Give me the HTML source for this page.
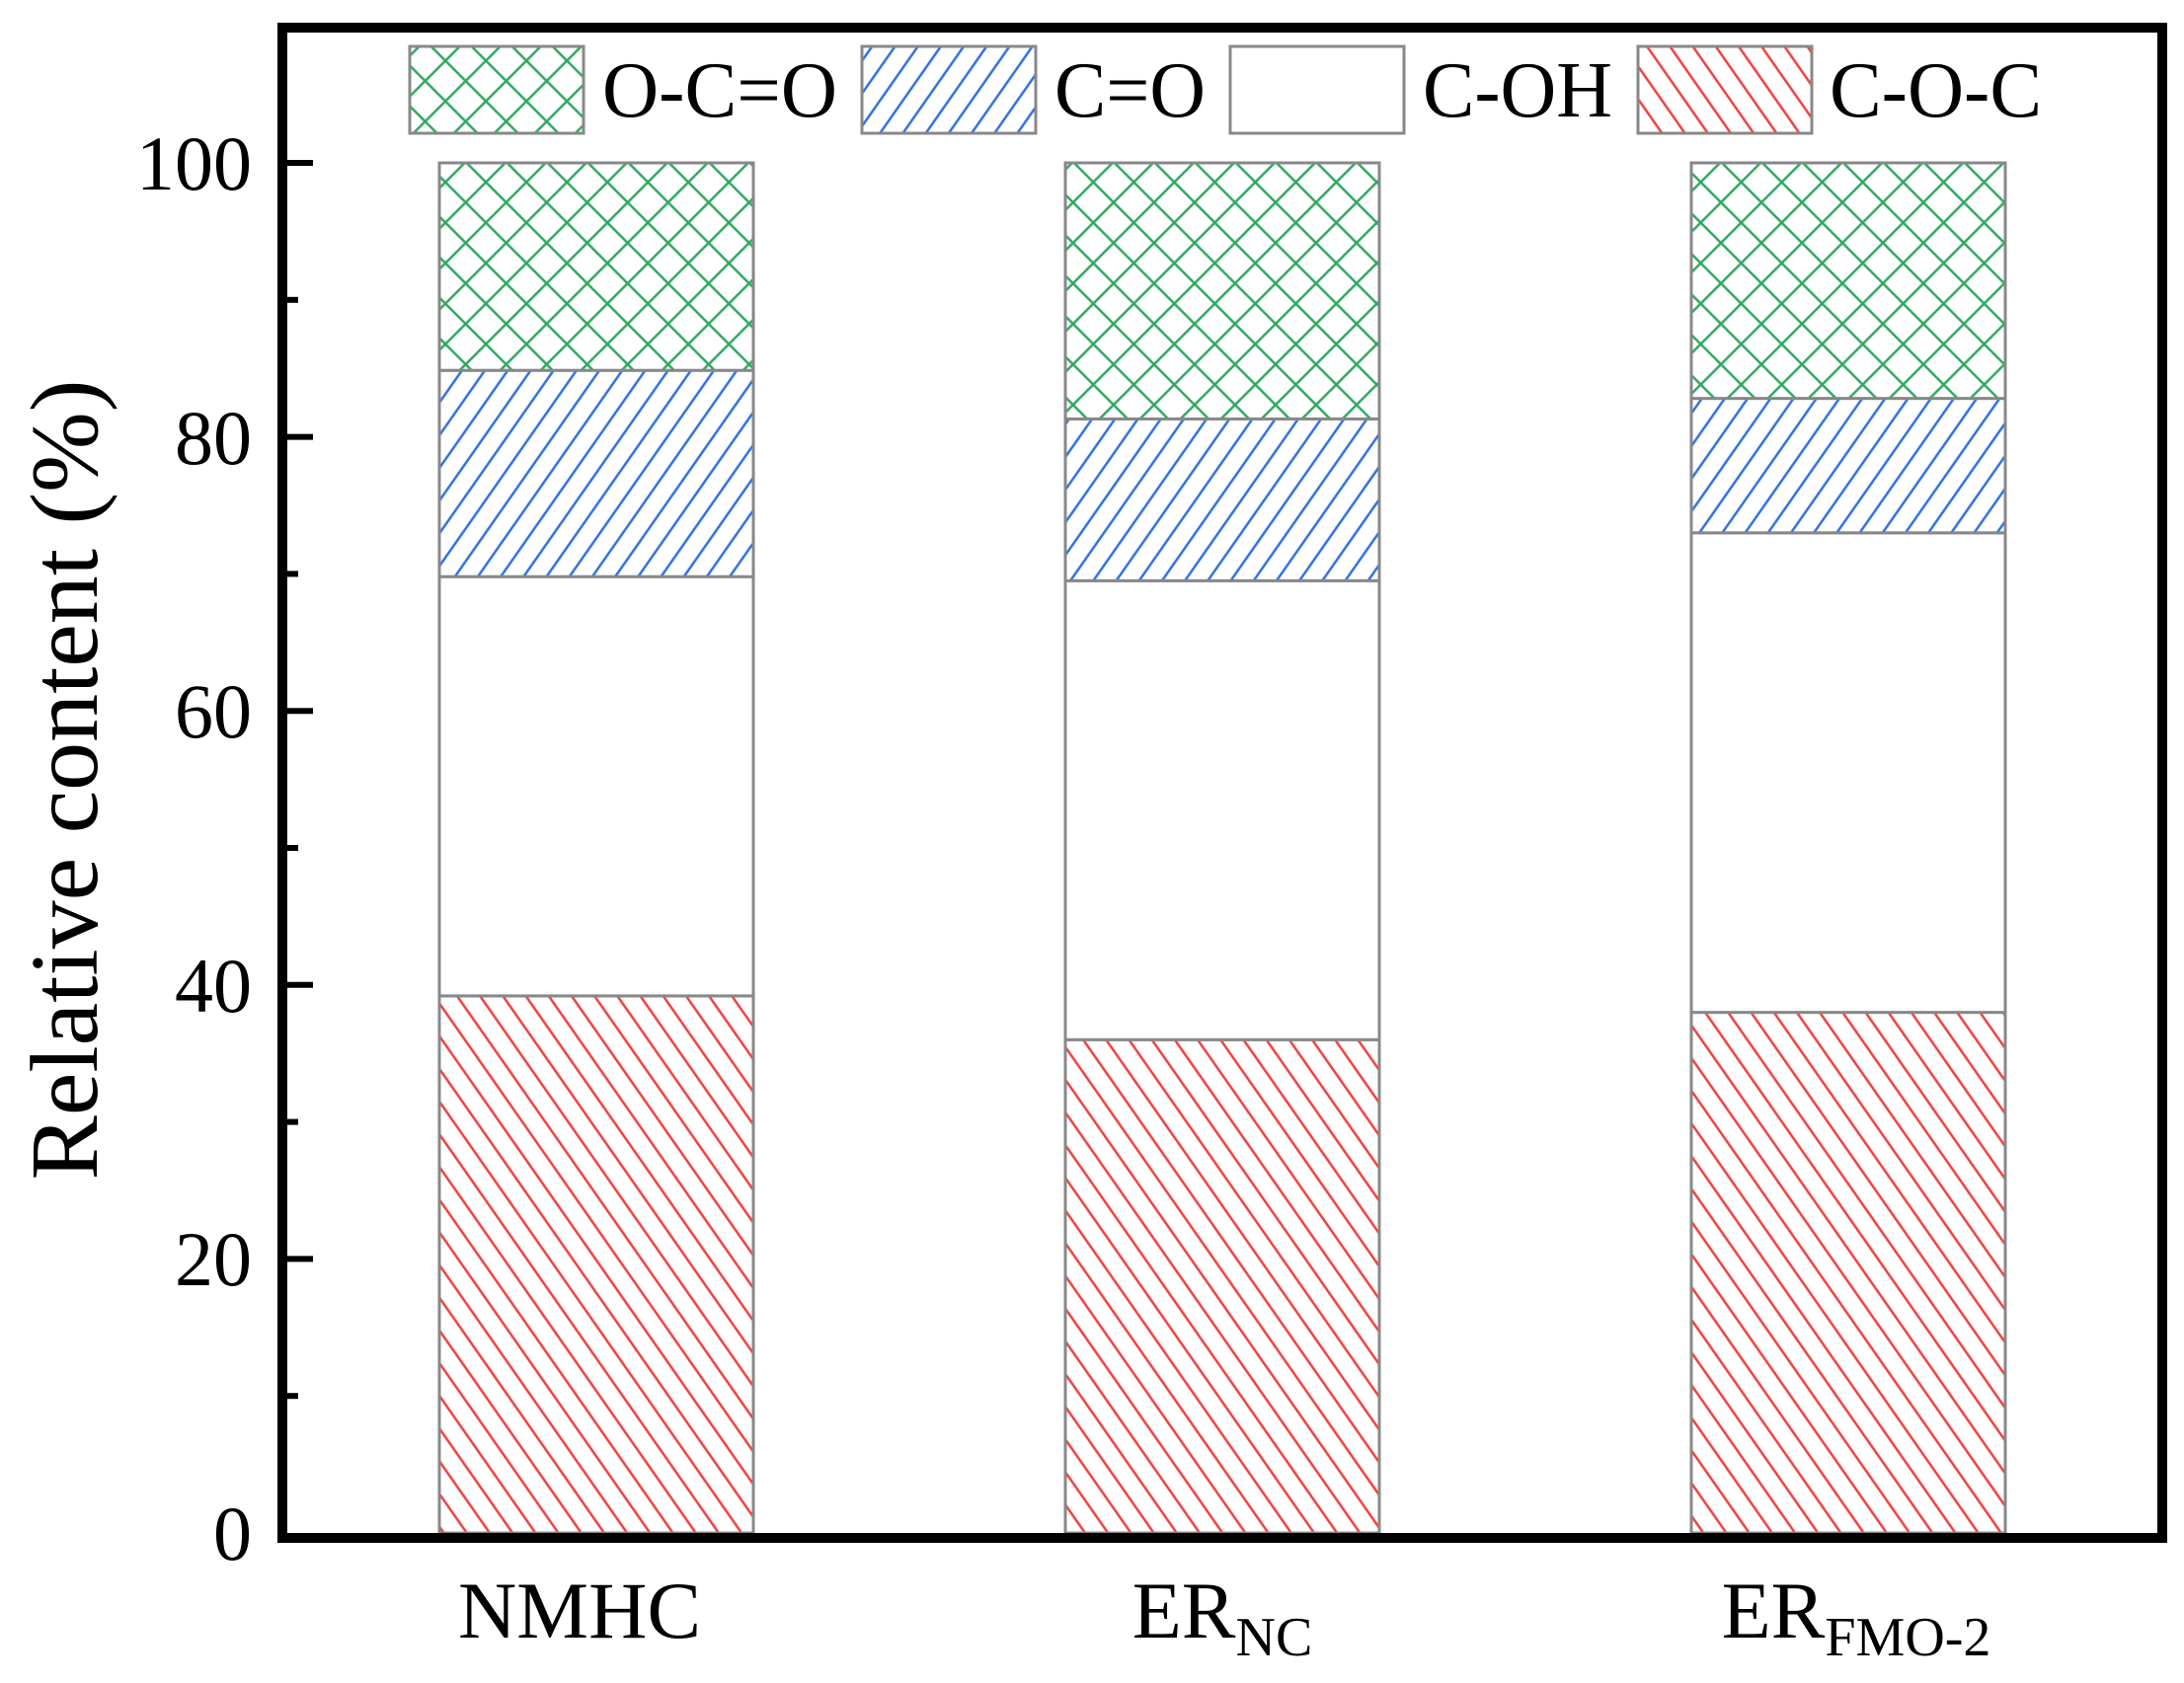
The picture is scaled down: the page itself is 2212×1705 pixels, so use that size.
<!DOCTYPE html>
<html><head><meta charset="utf-8"><style>html,body{margin:0;padding:0;background:#fff}svg{display:block}</style></head>
<body>
<svg width="2212" height="1705" viewBox="0 0 2212 1705" xmlns="http://www.w3.org/2000/svg" font-family="Liberation Serif, serif">
<defs>
<pattern id="red" patternUnits="userSpaceOnUse" width="19" height="19" patternTransform="rotate(55)">
<rect width="19" height="19" fill="#fff"/><line x1="0" y1="9.5" x2="19" y2="9.5" stroke="#f04040" stroke-width="2.5"/></pattern>
<pattern id="blue" patternUnits="userSpaceOnUse" width="19" height="19" patternTransform="rotate(-55)">
<rect width="19" height="19" fill="#fff"/><line x1="0" y1="9.5" x2="19" y2="9.5" stroke="#3070e0" stroke-width="2.5"/></pattern>
<pattern id="green" patternUnits="userSpaceOnUse" width="29" height="29" patternTransform="rotate(45)">
<rect width="29" height="29" fill="#fff"/><line x1="0" y1="14.5" x2="29" y2="14.5" stroke="#30a860" stroke-width="2.5"/><line x1="14.5" y1="0" x2="14.5" y2="29" stroke="#30a860" stroke-width="2.5"/></pattern>
</defs>
<g stroke="#888" stroke-width="3">
<rect x="445" y="1008.9" width="318" height="544.1" fill="url(#red)"/>
<rect x="445" y="584.2" width="318" height="424.7" fill="#fff"/>
<rect x="445" y="375.2" width="318" height="209" fill="url(#blue)"/>
<rect x="445" y="165" width="318" height="210.2" fill="url(#green)"/>
<rect x="1079" y="1053.3" width="318" height="499.7" fill="url(#red)"/>
<rect x="1079" y="588.3" width="318" height="465" fill="#fff"/>
<rect x="1079" y="424.4" width="318" height="163.9" fill="url(#blue)"/>
<rect x="1079" y="165" width="318" height="259.4" fill="url(#green)"/>
<rect x="1713" y="1025.6" width="318" height="527.4" fill="url(#red)"/>
<rect x="1713" y="539.8" width="318" height="485.8" fill="#fff"/>
<rect x="1713" y="403.6" width="318" height="136.2" fill="url(#blue)"/>
<rect x="1713" y="165" width="318" height="238.6" fill="url(#green)"/>
<rect x="415" y="47" width="176" height="88" fill="url(#green)"/>
<rect x="873" y="47" width="176" height="88" fill="url(#blue)"/>
<rect x="1246" y="47" width="176" height="88" fill="#fff"/>
<rect x="1659" y="47" width="176" height="88" fill="url(#red)"/>
</g>
<g font-size="80" fill="#000">
<text x="610" y="118" textLength="238" lengthAdjust="spacingAndGlyphs">O-C=O</text>
<text x="1068" y="118" textLength="153" lengthAdjust="spacingAndGlyphs">C=O</text>
<text x="1441" y="118" textLength="192" lengthAdjust="spacingAndGlyphs">C-OH</text>
<text x="1853" y="118" textLength="215" lengthAdjust="spacingAndGlyphs">C-O-C</text>
</g>
<rect x="286" y="28" width="1904" height="1530" fill="none" stroke="#000" stroke-width="10"/>
<g stroke="#000" stroke-width="6">
<line x1="291" y1="165" x2="317" y2="165"/><line x1="291" y1="442.6" x2="317" y2="442.6"/>
<line x1="291" y1="720.2" x2="317" y2="720.2"/><line x1="291" y1="997.8" x2="317" y2="997.8"/>
<line x1="291" y1="1275.4" x2="317" y2="1275.4"/>
<line x1="291" y1="303.8" x2="302" y2="303.8"/><line x1="291" y1="581.4" x2="302" y2="581.4"/>
<line x1="291" y1="859" x2="302" y2="859"/><line x1="291" y1="1136.6" x2="302" y2="1136.6"/>
<line x1="291" y1="1414.2" x2="302" y2="1414.2"/>
</g>
<g font-size="78" fill="#000" text-anchor="end">
<text x="255" y="192">100</text><text x="255" y="470">80</text><text x="255" y="747">60</text>
<text x="255" y="1025">40</text><text x="255" y="1302">20</text><text x="255" y="1580">0</text>
</g>
<text transform="translate(98,790) rotate(-90)" font-size="98" text-anchor="middle">Relative content (%)</text>
<g font-size="82" fill="#000" text-anchor="middle">
<text x="587" y="1659">NMHC</text>
<text x="1238" y="1659">ER<tspan font-size="56" dy="18">NC</tspan></text>
<text x="1880" y="1659">ER<tspan font-size="56" dy="18">FMO-2</tspan></text>
</g>
</svg>
</body></html>
